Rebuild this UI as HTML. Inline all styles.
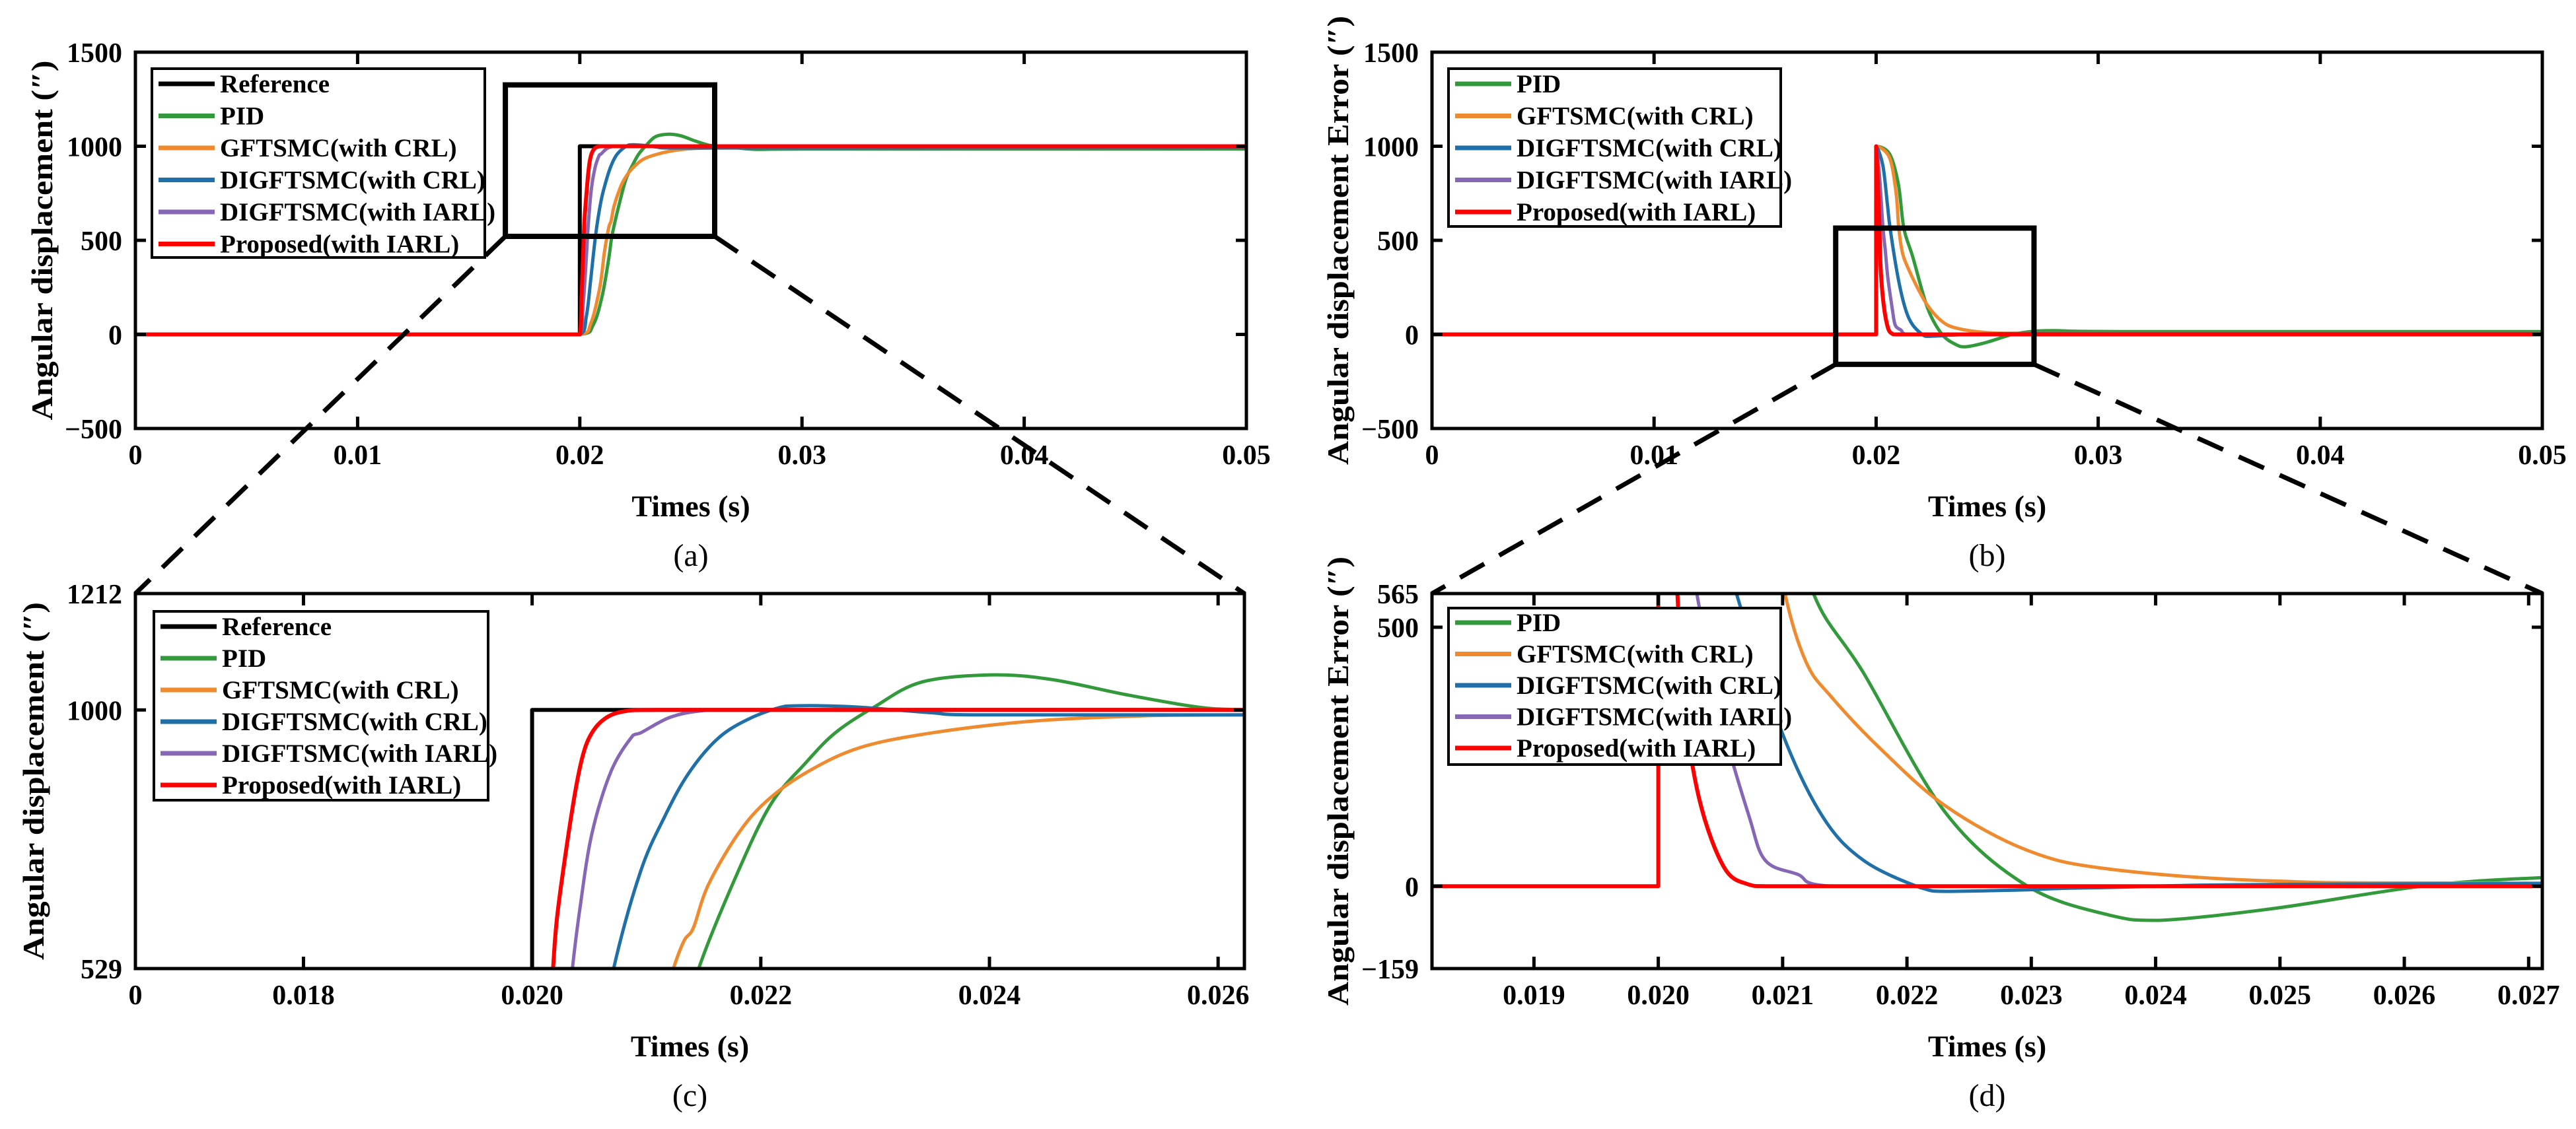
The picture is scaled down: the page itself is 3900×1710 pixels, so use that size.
<!DOCTYPE html>
<html><head><meta charset="utf-8"><style>
html,body{margin:0;padding:0;background:#fff;width:3900px;height:1710px;overflow:hidden}
svg{display:block}
text{font-family:"Liberation Serif","Times New Roman",serif}
</style></head><body>
<svg id="fig" width="3900" height="1710" viewBox="0 0 3900 1710" xmlns="http://www.w3.org/2000/svg"></svg>
<script>
// ---- displacement data (panels a, c) ----
const refT=[0,0.02,0.02,0.05];
const refV=[0,0,1000,1000];
const pidT=[0,0.02,0.0206,0.0210,0.0213,0.021457,0.0218,0.02209,0.02239,0.02265,0.02299,0.02341,0.02405,0.02456,0.02519,0.02583,0.02623,0.027,0.028,0.03,0.05];
const pidV=[0,0,50,200,400,529,705,829,903,958,1005,1051,1064,1055,1028,1005,1000,992,983,985,985];
const gftT=[0,0.02,0.0205,0.0209,0.0211,0.021236,0.02133,0.02141,0.02154,0.0218,0.02205,0.02239,0.02286,0.02349,0.02434,0.02519,0.02623,0.05];
const gftV=[0,0,60,250,430,529,580,603,681,774,834,885,931,958,979,988,991,993];
const dcrlT=[0,0.02,0.0203,0.0205,0.020713,0.020947,0.02116,0.02137,0.02163,0.02192,0.02222,0.02243,0.02286,0.02349,0.0239,0.02623,0.05];
const dcrlV=[0,0,100,300,529,705,806,885,949,986,1007,1008,1005,995,991,991,993];
const diarlT=[0,0.02,0.02015,0.0203,0.020352,0.020416,0.020522,0.020692,0.020883,0.020947,0.0212,0.02146,0.0218,0.05];
const diarlV=[0,0,150,420,529,635,774,889,954,958,986,998,1000,1000];
const propT=[0,0.02,0.02008,0.02015,0.020183,0.020225,0.020352,0.020437,0.020522,0.02065,0.02082,0.0211,0.05];
const propV=[0,0,200,420,529,635,820,912,958,986,998,1000,1000];
// ---- error data (panels b, d) ----
const pidET=[0,0.02,0.02,0.0206,0.0210,0.02125,0.02165,0.02231,0.02297,0.02363,0.02403,0.02495,0.02614,0.02706,0.028,0.031,0.05];
const pidEV=[0,0,1000,960,800,564,412,142,0,-56,-66,-43,0,16,20,15,15];
const gftET=[0,0.02,0.02,0.0206,0.0209,0.02102,0.02119,0.02139,0.02178,0.02231,0.02297,0.02363,0.02495,0.027,0.05];
const gftEV=[0,0,1000,940,750,564,432,366,267,155,69,33,10,6,6];
const dcrlET=[0,0.02,0.02,0.0203,0.0205,0.02063,0.02099,0.02132,0.02165,0.02211,0.02231,0.02297,0.0235,0.027,0.05];
const dcrlEV=[0,0,1000,900,700,564,300,135,50,-3,-10,-7,-3,5,5];
const diarlET=[0,0.02,0.02,0.02015,0.0203,0.02041,0.02053,0.02073,0.02086,0.02112,0.0214,0.05];
const diarlEV=[0,0,1000,850,580,450,300,135,50,23,0,0];
const propET=[0,0.02,0.02,0.02008,0.02015,0.0202,0.02033,0.02053,0.02073,0.0209,0.05];
const propEV=[0,0,1000,800,580,366,168,36,3,0,0];
// ---- ticks ----
const xTicksMain=[0,0.01,0.02,0.03,0.04,0.05];
const xLabelsMain=["0","0.01","0.02","0.03","0.04","0.05"];
const yTicksMain=[-500,0,500,1000,1500];
const yLabelsMain=["\u2212500","0","500","1000","1500"];
const xTicksC=[0.018,0.020,0.022,0.024,0.026];
const xLabelsC=["0.018","0.020","0.022","0.024","0.026"];
const yTicksC=[529,1000,1212];
const yLabelsC=["529","1000","1212"];
const xTicksD=[0.019,0.020,0.021,0.022,0.023,0.024,0.025,0.026,0.027];
const xLabelsD=["0.019","0.020","0.021","0.022","0.023","0.024","0.025","0.026","0.027"];
const yTicksD=[-159,0,500,565];
const yLabelsD=["\u2212159","0","500","565"];
const legendA=["Reference","PID","GFTSMC(with CRL)","DIGFTSMC(with CRL)","DIGFTSMC(with IARL)","Proposed(with IARL)"];
const legendB=["PID","GFTSMC(with CRL)","DIGFTSMC(with CRL)","DIGFTSMC(with IARL)","Proposed(with IARL)"];

const NS="http://www.w3.org/2000/svg";
const svg=document.getElementById('fig');
function mk(tag,attrs,parent){const e=document.createElementNS(NS,tag);for(const k in attrs)e.setAttribute(k,attrs[k]);(parent||svg).appendChild(e);return e;}
const COL={ref:"#000000",pid:"#339a3c",gft:"#ef8a2e",dcrl:"#1f6fa8",diarl:"#8667b6",prop:"#ff0000"};

function makeScale(d0,d1,p0,p1){return v=>p0+(v-d0)/(d1-d0)*(p1-p0);}
function clamp(v,a,b){const lo=Math.min(a,b),hi=Math.max(a,b);return Math.max(lo,Math.min(hi,v));}
function smoothPath(pts){
  let d='M'+pts[0][0].toFixed(1)+' '+pts[0][1].toFixed(1);
  for(let i=0;i<pts.length-1;i++){
    const p0=pts[Math.max(0,i-1)],p1=pts[i],p2=pts[i+1],p3=pts[Math.min(pts.length-1,i+2)];
    let c1x=p1[0]+(p2[0]-p0[0])/6,c1y=p1[1]+(p2[1]-p0[1])/6;
    let c2x=p2[0]-(p3[0]-p1[0])/6,c2y=p2[1]-(p3[1]-p1[1])/6;
    c1x=clamp(c1x,p1[0],p2[0]);c2x=clamp(c2x,p1[0],p2[0]);
    c1y=clamp(c1y,p1[1],p2[1]);c2y=clamp(c2y,p1[1],p2[1]);
    d+='C'+c1x.toFixed(1)+' '+c1y.toFixed(1)+' '+c2x.toFixed(1)+' '+c2y.toFixed(1)+' '+p2[0].toFixed(1)+' '+p2[1].toFixed(1);
  }
  return d;
}

function panel(cfg){
  const g=mk('g',{});
  
  
  const sx=makeScale(cfg.x0,cfg.x1,cfg.L,cfg.R);
  const sy=makeScale(cfg.y0,cfg.y1,cfg.B,cfg.T);
  const cid='clip-'+cfg.name;
  const cp=mk('clipPath',{id:cid},g);
  mk('rect',{x:cfg.L,y:cfg.T,width:cfg.R-cfg.L,height:cfg.B-cfg.T},cp);
  const sg=mk('g',{'clip-path':'url(#'+cid+')'},g);
  cfg.series.forEach(s=>{
    const pts=s.t.map((t,i)=>[sx(t),sy(s.v[i])]);
    const p=mk('path',{d:smoothPath(pts),fill:'none',stroke:s.c,'stroke-width':s.w||5,'stroke-linejoin':'round'},sg);
    
    
  });
  const fr=mk('rect',{x:cfg.L,y:cfg.T,width:cfg.R-cfg.L,height:cfg.B-cfg.T,fill:'none',stroke:'#000','stroke-width':5},g);
  
  
  cfg.xt.forEach((t,i)=>{
    const x=sx(t);
    mk('line',{x1:x,y1:cfg.B,x2:x,y2:cfg.B-18,stroke:'#000','stroke-width':5},g);
    mk('line',{x1:x,y1:cfg.T,x2:x,y2:cfg.T+18,stroke:'#000','stroke-width':5},g);
    const tx=mk('text',{x:x,y:cfg.B+54,'font-size':42,'font-weight':'bold','text-anchor':'middle'},g);
    tx.textContent=cfg.xl[i];
    
    
  });
  if(cfg.zeroLabel){
    const tz=mk('text',{x:cfg.L,y:cfg.B+54,'font-size':42,'font-weight':'bold','text-anchor':'middle'},g);
    tz.textContent='0';
    
    
  }
  cfg.yt.forEach((v,i)=>{
    const y=sy(v);
    mk('line',{x1:cfg.L,y1:y,x2:cfg.L+16,y2:y,stroke:'#000','stroke-width':5},g);
    mk('line',{x1:cfg.R,y1:y,x2:cfg.R-16,y2:y,stroke:'#000','stroke-width':5},g);
    const ty=mk('text',{x:cfg.L-20,y:y+15,'font-size':42,'font-weight':'bold','text-anchor':'end'},g);
    ty.textContent=cfg.yl[i];
    
    
  });
  const cx=(cfg.L+cfg.R)/2;
  const xl=mk('text',{x:cx,y:cfg.B+133,'font-size':46,'font-weight':'bold','text-anchor':'middle'},g);
  xl.textContent='Times (s)';
  
  
  const cap=mk('text',{x:cx,y:cfg.B+208,'font-size':48,'text-anchor':'middle'},g);
  cap.textContent=cfg.cap;
  
  
  const ymid=(cfg.T+cfg.B)/2;
  const yl=mk('text',{x:0,y:0,'font-size':46,'font-weight':'bold','text-anchor':'middle',transform:'translate('+(cfg.ylx+16)+','+ymid+') rotate(-90)',textLength:cfg.ylen,lengthAdjust:'spacingAndGlyphs'},g);
  yl.textContent=cfg.ytitle;
  
  
  const lg=mk('g',{},g);
  
  
  const lb=cfg.lg;
  mk('rect',{x:lb.x,y:lb.y,width:lb.w,height:lb.h,fill:'#fff',stroke:'#000','stroke-width':4},lg);
  lb.items.forEach((it,i)=>{
    const yy=lb.y+lb.first+i*lb.step;
    const ln=mk('line',{x1:lb.x+10,y1:yy,x2:lb.x+95,y2:yy,stroke:it.c,'stroke-width':7},lg);
    
    
    const t=mk('text',{x:lb.x+103,y:yy+13,'font-size':39,'font-weight':'bold'},lg);
    t.textContent=it.n;
    
    
  });
  return {sx,sy};
}

const dispSeries=[
  {t:refT,v:refV,c:COL.ref,n:'reference-line',w:6},
  {t:pidT,v:pidV,c:COL.pid,n:'pid-line'},
  {t:gftT,v:gftV,c:COL.gft,n:'gftsmc-crl-line'},
  {t:dcrlT,v:dcrlV,c:COL.dcrl,n:'digftsmc-crl-line'},
  {t:diarlT,v:diarlV,c:COL.diarl,n:'digftsmc-iarl-line'},
  {t:propT,v:propV,c:COL.prop,n:'proposed-iarl-line',w:6}
];
const errSeries=[
  {t:pidET,v:pidEV,c:COL.pid,n:'pid-error-line'},
  {t:gftET,v:gftEV,c:COL.gft,n:'gftsmc-crl-error-line'},
  {t:dcrlET,v:dcrlEV,c:COL.dcrl,n:'digftsmc-crl-error-line'},
  {t:diarlET,v:diarlEV,c:COL.diarl,n:'digftsmc-iarl-error-line'},
  {t:propET,v:propEV,c:COL.prop,n:'proposed-iarl-error-line',w:6}
];
const cols=[COL.ref,COL.pid,COL.gft,COL.dcrl,COL.diarl,COL.prop];
const itemsA=legendA.map((n,i)=>({n:n,c:cols[i]}));
const itemsB=legendB.map((n,i)=>({n:n,c:cols[i+1]}));

const A=panel({name:'panel-a',x0:0,x1:0.05,y0:-500,y1:1500,L:205,R:1887,T:79,B:649,
  series:dispSeries,xt:xTicksMain,xl:xLabelsMain,yt:yTicksMain,yl:yLabelsMain,cap:'(a)',
  ytitle:'Angular displacement (\u2033)',ylx:63,ylen:545,
  lg:{x:230,y:104,w:504,h:286,first:23,step:48.5,items:itemsA}});
const B=panel({name:'panel-b',x0:0,x1:0.05,y0:-500,y1:1500,L:2168,R:3849,T:79,B:649,
  series:errSeries,xt:xTicksMain,xl:xLabelsMain,yt:yTicksMain,yl:yLabelsMain,cap:'(b)',
  ytitle:'Angular displacement Error (\u2033)',ylx:2025,ylen:680,
  lg:{x:2193,y:104,w:503,h:239,first:23,step:48.5,items:itemsB}});
const C=panel({name:'panel-c',x0:0.01653,x1:0.02623,y0:529,y1:1212,L:205,R:1884,T:899,B:1467,
  series:dispSeries,xt:xTicksC,xl:xLabelsC,yt:yTicksC,yl:yLabelsC,cap:'(c)',zeroLabel:true,
  ytitle:'Angular displacement (\u2033)',ylx:50,ylen:542,
  lg:{x:233,y:926,w:506,h:286,first:23,step:48,items:itemsA}});
const D=panel({name:'panel-d',x0:0.01818,x1:0.02711,y0:-159,y1:565,L:2168,R:3849,T:899,B:1467,
  series:errSeries,xt:xTicksD,xl:xLabelsD,yt:yTicksD,yl:yLabelsD,cap:'(d)',
  ytitle:'Angular displacement Error (\u2033)',ylx:2025,ylen:680,
  lg:{x:2193,y:921,w:503,h:237,first:22,step:47.5,items:itemsB}});

function zoomBox(P,t0,t1,v0,v1,sub,name){
  const x0=P.sx(t0),x1=P.sx(t1),yT=P.sy(v1),yB=P.sy(v0);
  const r=mk('rect',{x:x0,y:yT,width:x1-x0,height:yB-yT,fill:'none',stroke:'#000','stroke-width':8});
  
  
  const l1=mk('line',{x1:x0,y1:yB,x2:sub.L,y2:sub.T,stroke:'#000','stroke-width':7,'stroke-dasharray':'42 26'});
  
  
  const l2=mk('line',{x1:x1,y1:yB,x2:sub.R,y2:sub.T,stroke:'#000','stroke-width':7,'stroke-dasharray':'42 26'});
  
  
}
zoomBox(A,0.01665,0.02607,521,1326,{L:205,R:1884,T:899},'zoom-box-a');
zoomBox(B,0.01818,0.02711,-159,565,{L:2168,R:3849,T:899},'zoom-box-b');
</script>
</body></html>
